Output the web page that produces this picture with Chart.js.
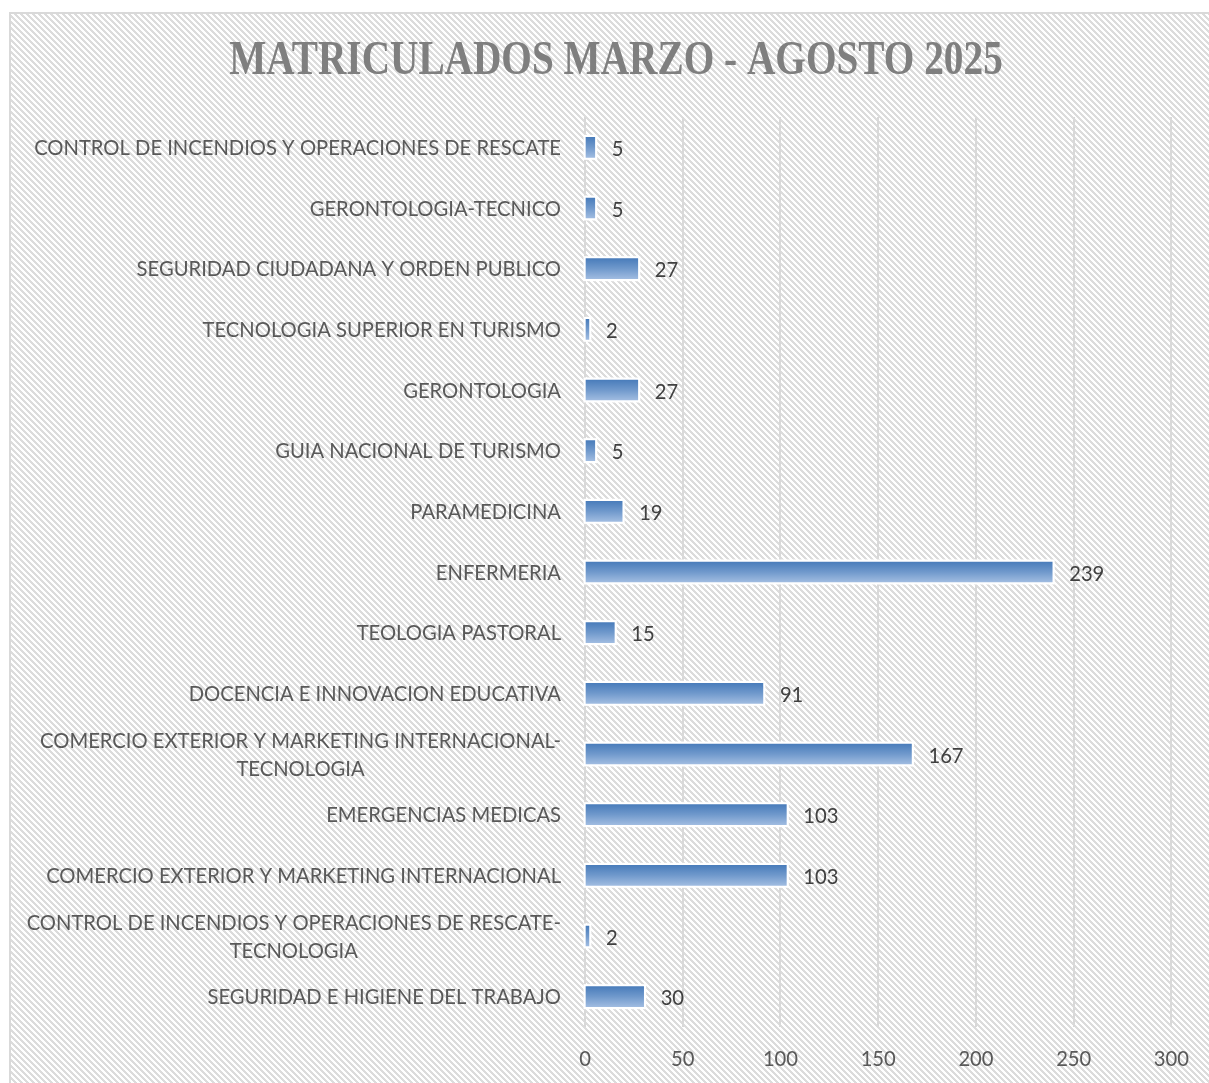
<!DOCTYPE html>
<html><head><meta charset="utf-8">
<script src="https://cdn.jsdelivr.net/npm/chart.js@4/dist/chart.umd.min.js"></script>
<style>html,body{margin:0;padding:0;background:#fff;overflow:hidden}#wrap{width:1209px;height:1083px;position:relative}</style>
</head><body><div id="wrap"><canvas id="c" width="1209" height="1083"></canvas></div>
<script>
const chartTitle = "MATRICULADOS MARZO - AGOSTO 2025";
const categories = [
  "CONTROL DE INCENDIOS Y OPERACIONES DE RESCATE",
  "GERONTOLOGIA-TECNICO",
  "SEGURIDAD CIUDADANA Y ORDEN PUBLICO",
  "TECNOLOGIA SUPERIOR EN TURISMO",
  "GERONTOLOGIA",
  "GUIA NACIONAL DE TURISMO",
  "PARAMEDICINA",
  "ENFERMERIA",
  "TEOLOGIA PASTORAL",
  "DOCENCIA E INNOVACION EDUCATIVA",
  ["COMERCIO EXTERIOR Y MARKETING INTERNACIONAL-", "TECNOLOGIA"],
  "EMERGENCIAS MEDICAS",
  "COMERCIO EXTERIOR Y MARKETING INTERNACIONAL",
  ["CONTROL DE INCENDIOS Y OPERACIONES DE RESCATE-", "TECNOLOGIA"],
  "SEGURIDAD E HIGIENE DEL TRABAJO"
];
const values = [5, 5, 27, 2, 27, 5, 19, 239, 15, 91, 167, 103, 103, 2, 30];
const xMin = 0, xMax = 300, xStep = 50;

// font sizing
const LABEL_FONT = "Lato";
const TITLE_FONT = "'Liberation Serif'";
const mctx = document.createElement('canvas').getContext('2d');
function fitSize(font, weight, text, target) {
  mctx.font = weight + ' 100px ' + font;
  return 100 * target / mctx.measureText(text).width;
}
const labelSize = Math.round(fitSize(LABEL_FONT, 'normal', "CONTROL DE INCENDIOS Y OPERACIONES DE RESCATE", 526) * 10) / 10;
const titleSize = Math.round(fitSize(TITLE_FONT, 'bold', chartTitle, 774) * 10) / 10;

// hatch pattern
function makePattern(ctx) {
  const P = 6;
  const c = document.createElement('canvas');
  c.width = P; c.height = P;
  const g = c.getContext('2d');
  g.fillStyle = '#ffffff'; g.fillRect(0, 0, P, P);
  g.fillStyle = '#dcdcdc';
  for (let y = 0; y < P; y++) for (let x = 0; x < P; x++) {
    if ((((x - y) % P) + P) % P < 3) g.fillRect(x, y, 1, 1);
  }
  return ctx.createPattern(c, 'repeat');
}

const bgPlugin = {
  id: 'bg',
  beforeDraw(chart) {
    const ctx = chart.ctx;
    ctx.save();
    ctx.fillStyle = '#fff';
    ctx.fillRect(0, 0, chart.width, chart.height);
    ctx.fillStyle = makePattern(ctx);
    ctx.fillRect(10, 13, chart.width - 10, chart.height - 13);
    ctx.strokeStyle = '#d9d9d9';
    ctx.lineWidth = 2;
    ctx.strokeRect(10, 13, chart.width + 10, chart.height + 10);
    // title (slightly tall, condensed look)
    ctx.fillStyle = '#7f7f7f';
    ctx.font = 'bold ' + titleSize + 'px ' + TITLE_FONT;
    ctx.textAlign = 'center';
    ctx.textBaseline = 'middle';
    ctx.translate(616, 62);
    ctx.scale(1, 1.22);
    ctx.fillText(chartTitle, 0, 0);
    ctx.restore();
  }
};

const barDecor = {
  id: 'barDecor',
  beforeDatasetsDraw(chart) {
    const ctx = chart.ctx;
    ctx.save();
    ctx.fillStyle = '#ffffff';
    chart.getDatasetMeta(0).data.forEach(el => {
      const h = el.height;
      const left = Math.min(el.base, el.x), right = Math.max(el.base, el.x);
      ctx.fillRect(left - 2.5, el.y - h / 2 - 2.5, right - left + 5, h + 5);
    });
    ctx.restore();
  },
  afterDatasetsDraw(chart) {
    const ctx = chart.ctx;
    ctx.save();
    ctx.fillStyle = '#404040';
    ctx.font = labelSize + 'px ' + LABEL_FONT;
    ctx.textAlign = 'left';
    ctx.textBaseline = 'middle';
    const ds = chart.data.datasets[0].data;
    chart.getDatasetMeta(0).data.forEach((el, i) => {
      ctx.fillText(String(ds[i]), el.x + 17, el.y + 2);
    });
    // category labels
    const ys = chart.scales.y;
    const rightEdge = ys.right - 24;
    ctx.fillStyle = '#595959';
    chart.data.labels.forEach((lab, i) => {
      const cy = ys.getPixelForTick(i);
      if (Array.isArray(lab)) {
        const w = Math.max(...lab.map(t => ctx.measureText(t).width));
        const cx = rightEdge - w / 2;
        ctx.textAlign = 'center';
        const lh = 28;
        lab.forEach((t, k) => ctx.fillText(t, cx, cy + (k - (lab.length - 1) / 2) * lh + 1));
      } else {
        ctx.textAlign = 'right';
        ctx.fillText(lab, rightEdge, cy + 1);
      }
    });
    ctx.restore();
  }
};

new Chart(document.getElementById('c'), {
  type: 'bar',
  data: {
    labels: categories,
    datasets: [{
      data: values,
      barThickness: 20,
      borderWidth: 0,
      backgroundColor: (c) => {
        const chart = c.chart;
        if (!chart.chartArea || !chart.scales.y) return '#4f81bd';
        const y = chart.scales.y.getPixelForValue(c.dataIndex);
        const g = chart.ctx.createLinearGradient(0, y - 10, 0, y + 10);
        g.addColorStop(0, '#4a7dbb');
        g.addColorStop(0.5, '#7099cc');
        g.addColorStop(1, '#9fbbe0');
        return g;
      }
    }]
  },
  options: {
    indexAxis: 'y',
    responsive: false,
    animation: false,
    devicePixelRatio: 1,
    layout: { padding: { top: 117, right: 35, bottom: 0, left: 0 } },
    plugins: { legend: { display: false }, tooltip: { enabled: false }, title: { display: false } },
    scales: {
      x: {
        min: xMin, max: xMax,
        ticks: { stepSize: xStep, color: '#595959', font: { family: LABEL_FONT, size: labelSize }, padding: 20 },
        grid: { color: '#d9d9d9', lineWidth: 2, drawTicks: false },
        border: { display: false },
        afterFit(s) { s.height = 56; }
      },
      y: {
        ticks: { display: false },
        grid: { display: false },
        border: { display: false },
        afterFit(s) { s.width = 585; }
      }
    }
  },
  plugins: [bgPlugin, barDecor]
});
</script>
</body></html>
